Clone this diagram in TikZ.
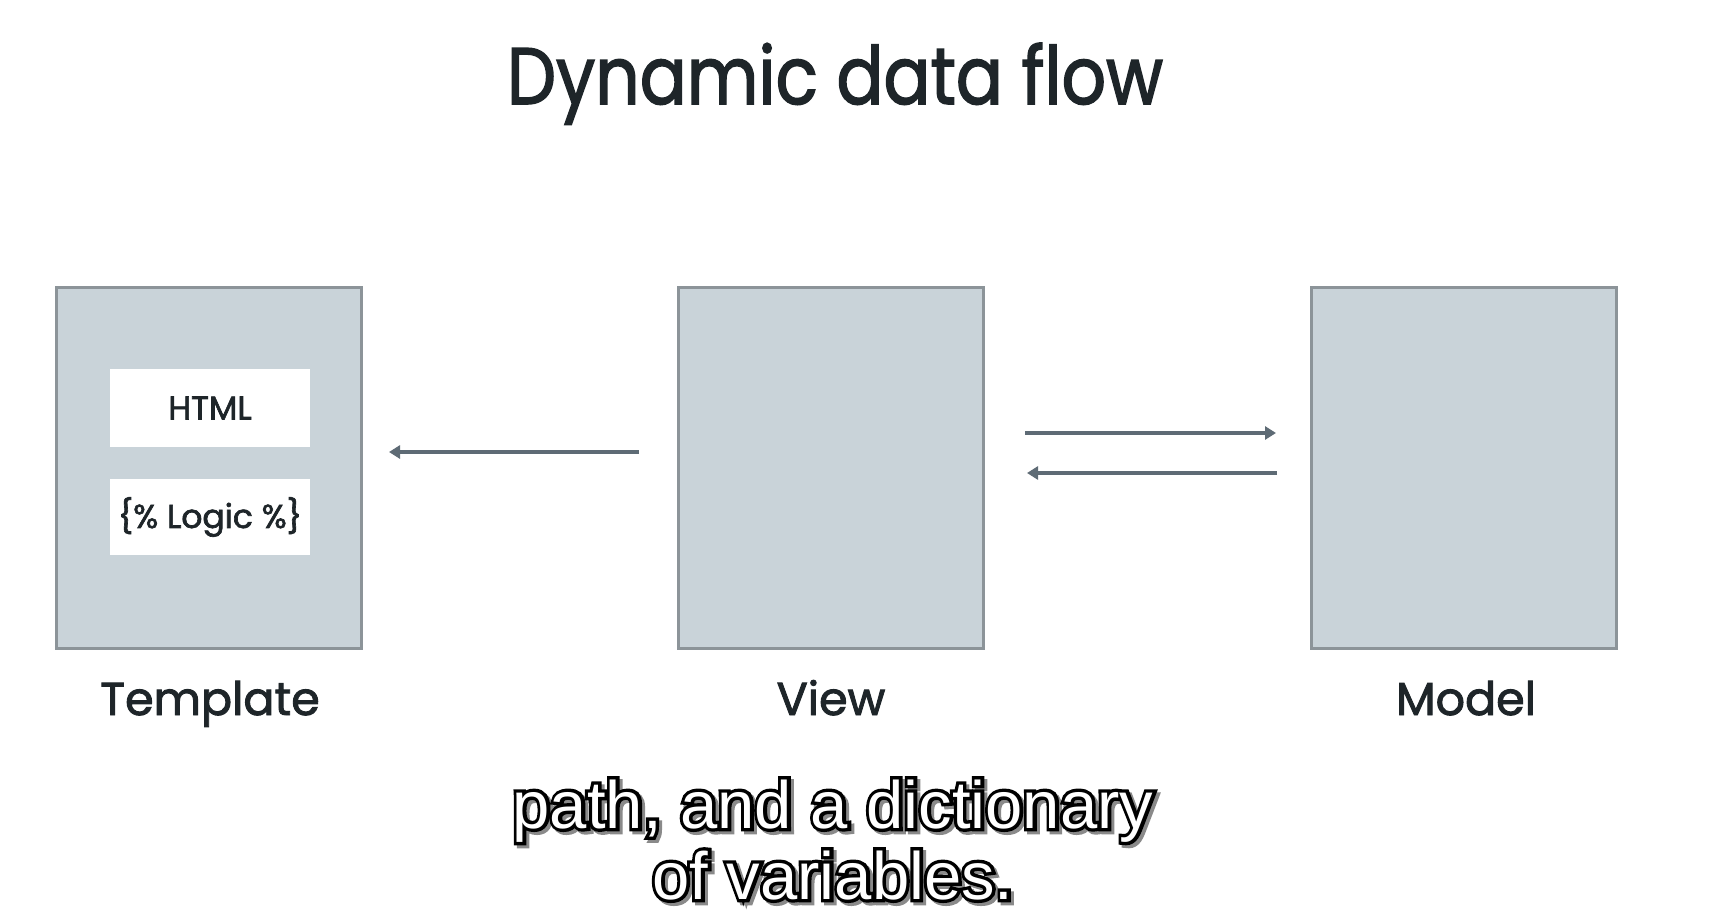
\documentclass[tikz,border=0pt]{standalone}
\usepackage{graphicx}
\usepackage{fontspec}
\setmainfont[FakeBold=2]{Poppins}
\newfontfamily\subfont{Liberation Sans}
\newfontfamily\subfontstroke[FakeBold=10]{Liberation Sans}
\usetikzlibrary{arrows.meta}
\definecolor{boxfill}{HTML}{C9D3D9}
\definecolor{boxline}{HTML}{8C9499}
\definecolor{arrowcol}{HTML}{5E6B75}
\definecolor{inktext}{HTML}{1E2529}
\definecolor{shadowgray}{HTML}{8A8A8A}
\newcommand\outlined[1]{%
  \rlap{\kern3pt\raise-3pt\hbox{\subfontstroke\color{shadowgray}#1}}%
  \rlap{\hbox{\subfontstroke\color{black}#1}}%
  {\subfont\color{white}#1}}
\tikzset{
  panel/.style={draw=boxline, line width=3pt, fill=boxfill, inner sep=0pt,
    minimum width=305pt, minimum height=361pt},
  inbox/.style={fill=white, inner sep=0pt, minimum width=200pt, text=inktext,
    font=\fontsize{33}{36}\selectfont},
  caption/.style={text=inktext, anchor=base, font=\fontsize{46}{50}\selectfont},
  flow/.style={draw=arrowcol, line width=4pt, -{Triangle[length=11pt,width=13pt]}},
}
\begin{document}
\begin{tikzpicture}[x=1pt,y=-1pt]
\useasboundingbox (0,0) rectangle (1716,923);
\fill[white] (0,0) rectangle (1716,923);
\node[text=inktext, anchor=base, font=\fontsize{80}{90}\selectfont] (title) at (835,104) {\scalebox{0.87}[1]{Dynamic data flow}};
\node[panel] (template) at (209,468) {};
\node[panel] (view) at (831,468) {};
\node[panel] (model) at (1464,468) {};
\node[inbox, minimum height=78pt] (html) at (210,408) {HTML};
\node[inbox, minimum height=76pt] (logic) at (210,517) {\{\% Logic \%\}};
\node[caption] (tlabel) at ([yshift=-65pt,xshift=1pt]template.south) {Template};
\node[caption] (vlabel) at ([yshift=-65pt]view.south) {View};
\node[caption] (mlabel) at ([yshift=-65pt,xshift=2pt]model.south) {Model};
\draw[flow] ([yshift=16pt,xshift=-38pt]view.west) -- ([yshift=16pt,xshift=26pt]template.east);
\draw[flow] ([yshift=35pt,xshift=40pt]view.east) -- ([yshift=35pt,xshift=-34pt]model.west);
\draw[flow] ([yshift=-5pt,xshift=-33pt]model.west) -- ([yshift=-5pt,xshift=42pt]view.east);
\node[anchor=base, align=center, inner sep=0pt, font=\subfont\fontsize{67}{71}\selectfont] (sub) at (833,899)
  {\outlined{path, and a dictionary}\\\outlined{of variables.}};
\end{tikzpicture}
\end{document}
